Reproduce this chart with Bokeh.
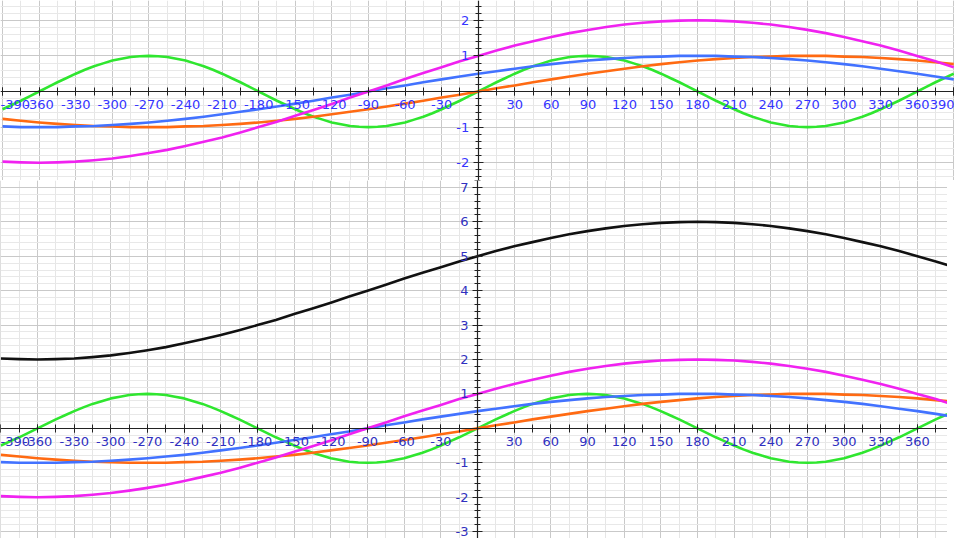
from bokeh.plotting import figure
from bokeh.models import FixedTicker, Range1d
from bokeh.layouts import column
from bokeh.embed import file_html
from bokeh.resources import INLINE

# ---- data ----
x_deg = [-390, -375, -360, -345, -330, -315, -300, -285, -270, -255, -240, -225, -210,
         -195, -180, -165, -150, -135, -120, -105, -90, -75, -60, -45, -30, -15, 0,
         15, 30, 45, 60, 75, 90, 105, 120, 135, 150, 165, 180, 195, 210, 225, 240,
         255, 270, 285, 300, 315, 330, 345, 360, 375, 390]

green_x = [-390, -382.5, -375, -367.5, -360, -352.5, -345, -337.5, -330, -322.5, -315,
           -307.5, -300, -292.5, -285, -277.5, -270, -262.5, -255, -247.5, -240, -232.5,
           -225, -217.5, -210, -202.5, -195, -187.5, -180, -172.5, -165, -157.5, -150,
           -142.5, -135, -127.5, -120, -112.5, -105, -97.5, -90, -82.5, -75, -67.5, -60,
           -52.5, -45, -37.5, -30, -22.5, -15, -7.5, 0, 7.5, 15, 22.5, 30, 37.5, 45, 52.5,
           60, 67.5, 75, 82.5, 90, 97.5, 105, 112.5, 120, 127.5, 135, 142.5, 150, 157.5,
           165, 172.5, 180, 187.5, 195, 202.5, 210, 217.5, 225, 232.5, 240, 247.5, 255,
           262.5, 270, 277.5, 285, 292.5, 300, 307.5, 315, 322.5, 330, 337.5, 345, 352.5,
           360, 367.5, 375, 382.5, 390]

green = [-0.5, -0.38, -0.26, -0.13,
         0, 0.13, 0.26, 0.38, 0.5, 0.61, 0.71, 0.79, 0.87, 0.92, 0.97, 0.99, 1,
         0.99, 0.97, 0.92, 0.87, 0.79, 0.71, 0.61, 0.5, 0.38, 0.26, 0.13, 0,
         -0.13, -0.26, -0.38, -0.5, -0.61, -0.71, -0.79, -0.87, -0.92, -0.97, -0.99, -1,
         -0.99, -0.97, -0.92, -0.87, -0.79, -0.71, -0.61, -0.5, -0.38, -0.26, -0.13, 0,
         0.13, 0.26, 0.38, 0.5, 0.61, 0.71, 0.79, 0.87, 0.92, 0.97, 0.99, 1,
         0.99, 0.97, 0.92, 0.87, 0.79, 0.71, 0.61, 0.5, 0.38, 0.26, 0.13, 0,
         -0.13, -0.26, -0.38, -0.5, -0.61, -0.71, -0.79, -0.87, -0.92, -0.97, -0.99, -1,
         -0.99, -0.97, -0.92, -0.87, -0.79, -0.71, -0.61, -0.5, -0.38, -0.26, -0.13, 0,
         0.13, 0.26, 0.38, 0.5]

orange = [-0.77, -0.82, -0.87, -0.91, -0.94, -0.97, -0.98, -1.0, -1.0, -1.0, -0.98, -0.97,
          -0.94, -0.91, -0.87, -0.82, -0.77, -0.71, -0.64, -0.57, -0.5, -0.42, -0.34,
          -0.26, -0.17, -0.09, 0, 0.09, 0.17, 0.26, 0.34, 0.42, 0.5, 0.57, 0.64, 0.71,
          0.77, 0.82, 0.87, 0.91, 0.94, 0.97, 0.98, 1.0, 1.0, 1.0, 0.98, 0.97, 0.94,
          0.91, 0.87, 0.82, 0.77]

blue = [-0.98, -1.0, -1.0, -1.0, -0.98, -0.97, -0.94, -0.91, -0.87, -0.82, -0.77, -0.71,
        -0.64, -0.57, -0.5, -0.42, -0.34, -0.26, -0.17, -0.09, 0, 0.09, 0.17, 0.26, 0.34,
        0.42, 0.5, 0.57, 0.64, 0.71, 0.77, 0.82, 0.87, 0.91, 0.94, 0.97, 0.98, 1.0, 1.0,
        1.0, 0.98, 0.97, 0.94, 0.91, 0.87, 0.82, 0.77, 0.71, 0.64, 0.57, 0.5, 0.42, 0.34]

magenta = [-1.97, -1.99, -2.0, -1.99, -1.97, -1.93, -1.88, -1.81, -1.73, -1.64, -1.53,
           -1.41, -1.29, -1.15, -1.0, -0.85, -0.68, -0.52, -0.35, -0.17, 0, 0.17, 0.35,
           0.52, 0.68, 0.85, 1.0, 1.15, 1.29, 1.41, 1.53, 1.64, 1.73, 1.81, 1.88, 1.93,
           1.97, 1.99, 2.0, 1.99, 1.97, 1.93, 1.88, 1.81, 1.73, 1.64, 1.53, 1.41, 1.29,
           1.15, 1.0, 0.85, 0.68]

black = [2.03, 2.01, 2.0, 2.01, 2.03, 2.07, 2.12, 2.19, 2.27, 2.36, 2.47, 2.59, 2.71,
         2.85, 3.0, 3.15, 3.32, 3.48, 3.65, 3.83, 4.0, 4.17, 4.35, 4.52, 4.68, 4.85, 5.0,
         5.15, 5.29, 5.41, 5.53, 5.64, 5.73, 5.81, 5.88, 5.93, 5.97, 5.99, 6.0, 5.99,
         5.97, 5.93, 5.88, 5.81, 5.73, 5.64, 5.53, 5.41, 5.29, 5.15, 5.0, 4.85, 4.68]

x_tick_labels = [-390, -360, -330, -300, -270, -240, -210, -180, -150, -120, -90, -60, -30,
                 30, 60, 90, 120, 150, 180, 210, 240, 270, 300, 330, 360, 390]
y_ticks_top = [-2, -1, 1, 2]
y_ticks_bottom = [-3, -2, -1, 1, 2, 3, 4, 5, 6, 7]

# ---- styling ----
COL_GREEN = "#2fe62f"
COL_ORANGE = "#ff6a12"
COL_BLUE = "#4272ff"
COL_MAGENTA = "#f022f0"
COL_BLACK = "#111111"
AXIS_COL = "#222222"
FONT = "DejaVu Sans"

x_grid_major = list(range(-390, 391, 30))
x_grid_minor = list(range(-390, 391, 15))
x_axis_minor = list(range(-405, 406, 15))


def make_panel(width, height, xr, yr, yticks, label_color, series):
    p = figure(width=width, height=height,
               x_range=Range1d(*xr), y_range=Range1d(*yr),
               output_backend="svg", toolbar_location=None,
               min_border=0, min_border_left=0, min_border_right=0,
               min_border_top=0, min_border_bottom=0,
               background_fill_color="white", border_fill_color="white",
               outline_line_color=None)

    ylo, yhi = int(yr[0]) - 1, int(yr[1]) + 1
    y_major_grid = list(range(ylo, yhi + 1))
    y_minor = [round(ylo + 0.2 * k, 1) for k in range(int((yhi - ylo) * 5) + 1)]

    # grids
    p.xgrid.ticker = FixedTicker(ticks=x_grid_major, minor_ticks=x_grid_minor)
    p.xgrid.grid_line_color = "#c9c9c9"
    p.xgrid.minor_grid_line_color = "#e6e6e6"
    p.ygrid.ticker = FixedTicker(ticks=y_major_grid, minor_ticks=y_minor)
    p.ygrid.grid_line_color = "#c9c9c9"
    p.ygrid.minor_grid_line_color = "#e8e8e8"

    # axes crossing at the origin
    xa = p.xaxis[0]
    xa.fixed_location = 0
    xa.ticker = FixedTicker(ticks=x_tick_labels, minor_ticks=x_axis_minor)
    xa.major_label_overrides = {t: str(t) for t in x_tick_labels}
    xa.axis_line_color = AXIS_COL
    xa.axis_line_width = 1.2
    xa.major_tick_line_color = AXIS_COL
    xa.minor_tick_line_color = AXIS_COL
    xa.major_tick_in = 4
    xa.major_tick_out = 4
    xa.minor_tick_in = 4
    xa.minor_tick_out = 4
    xa.major_label_standoff = 5
    xa.major_label_text_color = label_color
    xa.major_label_text_font = FONT
    xa.major_label_text_font_size = "13px"

    ya = p.yaxis[0]
    ya.fixed_location = 0
    ya.ticker = FixedTicker(ticks=yticks, minor_ticks=y_minor)
    ya.major_label_overrides = {t: str(t) for t in yticks}
    ya.axis_line_color = AXIS_COL
    ya.axis_line_width = 1.2
    ya.major_tick_line_color = AXIS_COL
    ya.minor_tick_line_color = AXIS_COL
    ya.major_tick_in = 5
    ya.major_tick_out = 5
    ya.minor_tick_in = 3
    ya.minor_tick_out = 3
    ya.major_label_standoff = 4
    ya.major_label_text_color = label_color
    ya.major_label_text_font = FONT
    ya.major_label_text_font_size = "13px"

    for xs, ys, col in series:
        p.line(xs, ys, line_color=col, line_width=2.6, line_join="round")
    return p


top = make_panel(954, 180, (-391.7, 390.6), (-2.5, 2.556), y_ticks_top, "#3535ff",
                 [(green_x, green, COL_GREEN), (x_deg, orange, COL_ORANGE),
                  (x_deg, blue, COL_BLUE), (x_deg, magenta, COL_MAGENTA)])

bottom = make_panel(947, 358, (-390.3, 384.6), (-3.2, 7.2), y_ticks_bottom, "#3030c0",
                    [(green_x, green, COL_GREEN), (x_deg, orange, COL_ORANGE),
                     (x_deg, blue, COL_BLUE), (x_deg, magenta, COL_MAGENTA),
                     (x_deg, black, COL_BLACK)])

layout = column(top, bottom, spacing=0)

open("out.html", "w").write(file_html(layout, INLINE))
